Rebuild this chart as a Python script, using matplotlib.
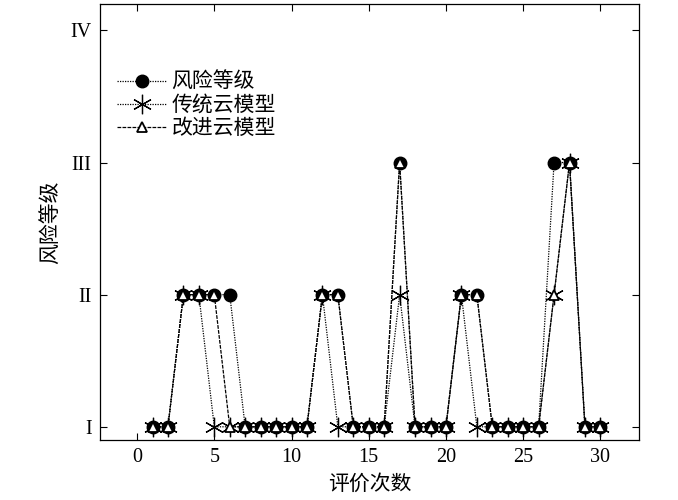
import numpy as np
import matplotlib
matplotlib.use('Agg')
import matplotlib.pyplot as plt

plt.rcParams['font.family'] = ['Liberation Serif', 'Noto Sans CJK SC']

# data: evaluation number and risk level (1=I ... 4=IV)
n = np.arange(1, 31)
risk = [1, 1, 2, 2, 2, 2, 1, 1, 1, 1, 1, 2, 2, 1, 1, 1, 3, 1, 1, 1, 2, 2, 1, 1, 1, 1, 3, 3, 1, 1]
trad = [1, 1, 2, 2, 1, 1, 1, 1, 1, 1, 1, 2, 1, 1, 1, 1, 2, 1, 1, 1, 2, 1, 1, 1, 1, 1, 2, 3, 1, 1]
impr = [1, 1, 2, 2, 2, 1, 1, 1, 1, 1, 1, 2, 2, 1, 1, 1, 3, 1, 1, 1, 2, 2, 1, 1, 1, 1, 2, 3, 1, 1]
labels = ['风险等级', '传统云模型', '改进云模型']
ylevels = [1, 2, 3, 4]
yticklabels = ['I', 'II', 'III', 'IV']

fig = plt.figure(figsize=(6.78, 5), dpi=100)
ax = fig.add_axes([0.1475, 0.12, 0.795, 0.872])

cjk = ['Noto Sans CJK SC', 'DejaVu Sans']

ax.plot(n, risk, color='k', ls=(0, (1, 1)), lw=0.9, marker='o', ms=9,
        mfc='k', mec='k', label=labels[0])
ax.plot(n, trad, color='k', ls=(0, (1, 1)), lw=0.9, marker=(6, 2, 0), ms=14,
        mec='k', mew=0.9, label=labels[1])
ax.plot(n, impr, color='k', ls=(0, (3, 1)), lw=0.9, marker='^', ms=7.5,
        mfc='white', mec='k', mew=1.3, label=labels[2])

ax.set_xlim(-2.4, 32.5)
ax.set_ylim(0.9, 4.2)
ax.set_xticks(np.arange(0, 31, 5))
ax.set_yticks(ylevels)
ax.set_yticklabels(yticklabels)
ax.tick_params(direction='in', top=True, right=True, length=5, width=0.8, labelsize=14.5, pad=6)
for s in ax.spines.values():
    s.set_linewidth(0.9)

ax.set_xlabel('评价次数', fontsize=15, family=cjk, labelpad=4)
ax.set_ylabel('风险等级', fontsize=15, family=cjk, labelpad=6)

leg = ax.legend(loc='upper left', bbox_to_anchor=(0.005, 0.88), frameon=False,
                prop={'family': cjk, 'size': 15}, handlelength=2.4, handletextpad=0.2,
                labelspacing=0.05, borderaxespad=0.3)

fig.savefig('out.png', dpi=100)
